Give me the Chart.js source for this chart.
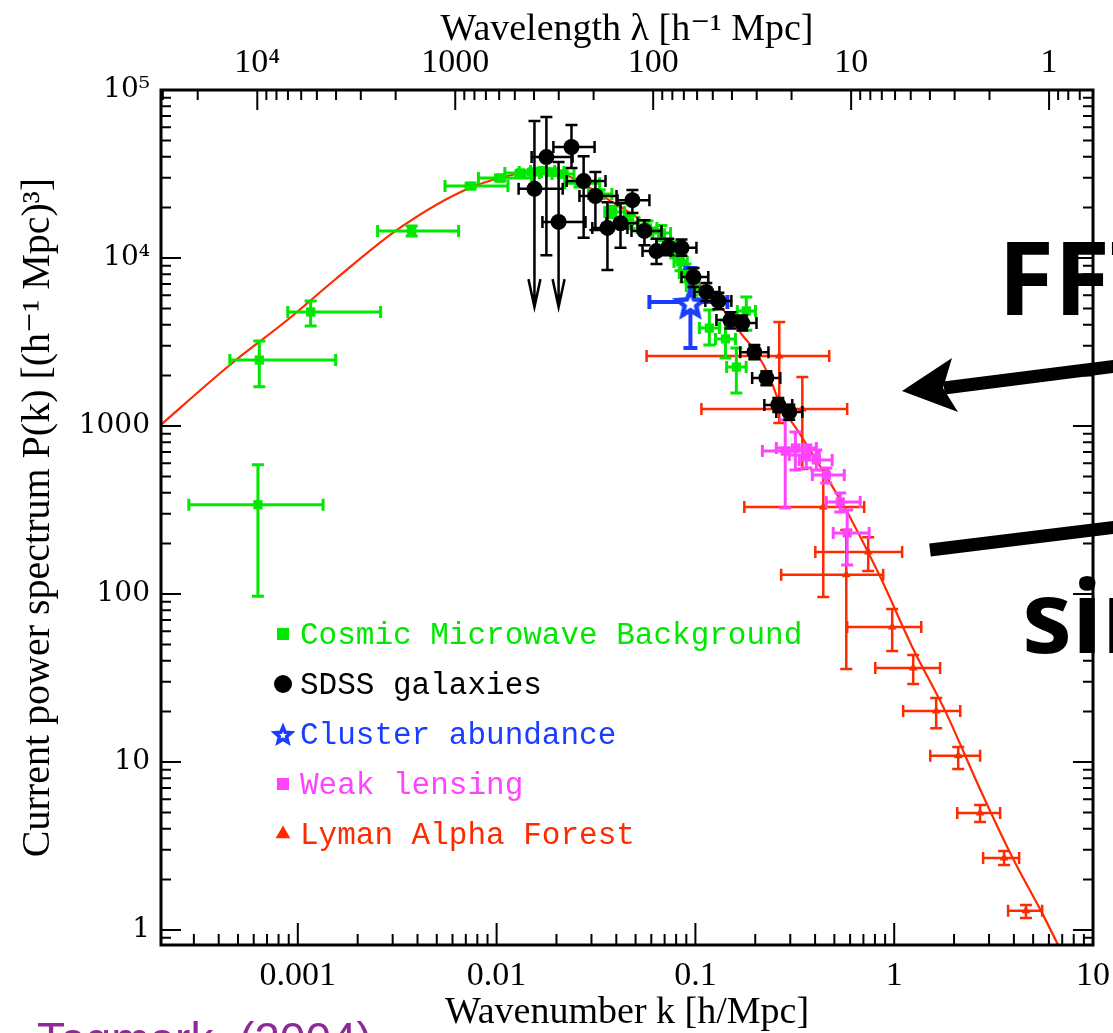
<!DOCTYPE html>
<html>
<head>
<meta charset="utf-8">
<script src="https://cdn.jsdelivr.net/npm/chart.js@4.4.0/dist/chart.umd.min.js"></script>
<style>
  html, body { margin: 0; padding: 0; background: #fff; }
  #wrap { width: 1113px; height: 1033px; }
</style>
</head>
<body>
<div id="wrap"><canvas id="powerChart" width="1113" height="1033"></canvas></div>
<script>
// axis ticks
const kTickValues = [0.001, 0.01, 0.1, 1, 10];
const kTickLabels = ['0.001', '0.01', '0.1', '1', '10'];
const lambdaTickValues = [1e4, 1000, 100, 10, 1];
const lambdaTickLabels = ['10⁴', '1000', '100', '10', '1'];
const pTickValues = [1, 10, 100, 1000, 1e4, 1e5];
const pTickLabels = ['1', '10', '100', '1000', '10⁴', '10⁵'];

// Cosmic Microwave Background
const cmbK   = [6.3e-4, 6.4e-4, 1.16e-3, 3.74e-3, 7.4e-3, 0.0104, 0.0132, 0.0152, 0.0170, 0.0191, 0.0215, 0.0261, 0.0330, 0.0383, 0.0466, 0.0574, 0.0675, 0.0793, 0.0841, 0.0891, 0.0967, 0.1175, 0.1416, 0.1607, 0.1803];
const cmbP   = [340, 2470, 4770, 14500, 26800, 29900, 32100, 32500, 33000, 32500, 31600, 27900, 24000, 18800, 16400, 15100, 14100, 11200, 9460, 8140, 6810, 3830, 3300, 2245, 4840];
const cmbKLo = [2.83e-4, 4.55e-4, 8.9e-4, 2.52e-3, 5.5e-3, 8.1e-3, 0.0110, 0.0130, 0.0148, 0.0168, 0.0190, 0.0220, 0.0290, 0.0350, 0.0420, 0.0510, 0.0610, 0.0730, 0.0780, 0.0830, 0.0900, 0.1047, 0.1262, 0.1436, 0.1625];
const cmbKHi = [1.34e-3, 1.55e-3, 2.61e-3, 6.44e-3, 0.0114, 0.0150, 0.0164, 0.0178, 0.0196, 0.0218, 0.0245, 0.0330, 0.0380, 0.0440, 0.0520, 0.0640, 0.0750, 0.0860, 0.0910, 0.0960, 0.1040, 0.1321, 0.1590, 0.1800, 0.2005];
const cmbPLo = [97, 1710, 3940, 13500, 25800, 28700, 31000, 31300, 31800, 31200, 30200, 26500, 22600, 17400, 15000, 13700, 12700, 10000, 8400, 7200, 6000, 3035, 2540, 1570, 3720];
const cmbPHi = [587, 3210, 5550, 15500, 27900, 31200, 33200, 33700, 34300, 33900, 33000, 29400, 25500, 20300, 17900, 16600, 15600, 12500, 10600, 9200, 7700, 4900, 4270, 2910, 5860];

// SDSS galaxies
const sdssK   = [0.0155, 0.0178, 0.0205, 0.0238, 0.0274, 0.0314, 0.0361, 0.0420, 0.0482, 0.0554, 0.0637, 0.0731, 0.0851, 0.0978, 0.1135, 0.1305, 0.150, 0.1722, 0.1979, 0.2275, 0.2612, 0.2966];
const sdssP   = [25800, 39900, 16400, 45800, 28700, 23400, 15100, 16100, 22100, 14500, 11000, 11600, 11500, 7710, 6280, 5550, 4270, 4100, 2750, 1930, 1334, 1211];
const sdssKLo = [0.0129, 0.0150, 0.0170, 0.0193, 0.0225, 0.0261, 0.0303, 0.0357, 0.0406, 0.0477, 0.0542, 0.0637, 0.0723, 0.0851, 0.0989, 0.1122, 0.1276, 0.150, 0.168, 0.193, 0.2222, 0.2553];
const sdssKHi = [0.0215, 0.0241, 0.0280, 0.0311, 0.0353, 0.0401, 0.0455, 0.0512, 0.0587, 0.0675, 0.0749, 0.0861, 0.1012, 0.1161, 0.1321, 0.1517, 0.1762, 0.2029, 0.233, 0.2673, 0.3071, 0.3450];
const sdssPLo = [5100, 10400, 5100, 34300, 13200, 14700, 8480, 11500, 18500, 11900, 9200, 10400, 10300, 6710, 5550, 4950, 3800, 3700, 2500, 1750, 1210, 1090];
const sdssPHi = [65400, 69000, 37300, 61900, 40400, 32500, 21500, 21200, 25400, 16800, 13000, 13000, 12900, 8710, 7100, 6200, 4750, 4550, 3030, 2120, 1470, 1340];
const sdssUpperLimit = [true, false, true, false, false, false, false, false, false, false, false, false, false, false, false, false, false, false, false, false, false, false];

// Cluster abundance
const clusterK = [0.0944];
const clusterP = [5470];
const clusterKLo = [0.0587];
const clusterKHi = [0.1449];
const clusterPLo = [2910];
const clusterPHi = [8710];

// Weak lensing
const wlK   = [0.2830, 0.3184, 0.3614, 0.4058, 0.4553, 0.5355, 0.580];
const wlP   = [709, 740, 672, 628, 511, 353, 231];
const wlKLo = [0.2173, 0.2553, 0.2966, 0.333, 0.3873, 0.4553, 0.4935];
const wlKHi = [0.3743, 0.4058, 0.4198, 0.4875, 0.5607, 0.6745, 0.748];
const wlPLo = [325, 547, 562, 547, 458, 308, 149];
const wlPHi = [1086, 920, 771, 720, 562, 399, 316];

// Lyman Alpha Forest
const lyaK   = [0.2641, 0.345, 0.4397, 0.740, 0.574, 0.977, 1.246, 1.626, 2.099, 2.704, 3.57, 4.60];
const lyaP   = [2610, 1262, 329, 178, 130, 63.7, 36.3, 20.1, 10.9, 4.97, 2.68, 1.30];
const lyaKLo = [0.0568, 0.1072, 0.1762, 0.401, 0.270, 0.580, 0.803, 1.109, 1.518, 2.075, 2.80, 3.74];
const lyaKHi = [0.471, 0.580, 0.706, 1.096, 0.880, 1.368, 1.702, 2.148, 2.704, 3.41, 4.25, 5.55];
const lyaPLo = [1042, 555, 96, 137, 35.8, 45.8, 29.1, 15.9, 9.08, 4.40, 2.44, 1.18];
const lyaPHi = [4160, 1960, 547, 218, 240, 81.5, 43.4, 24.0, 12.3, 5.55, 2.95, 1.41];

// model curve
const theoryK = [1.9e-4, 4.55e-4, 9.12e-4, 1.53e-3, 3.26e-3, 7.31e-3, 0.01416, 0.01888, 0.0261, 0.0383, 0.0506, 0.0675, 0.0861, 0.1012, 0.1216, 0.143, 0.172, 0.203, 0.236, 0.264, 0.333, 0.435, 0.580, 0.841, 1.232, 1.824, 2.672, 3.92, 5.55, 6.67, 8.0];
const theoryP = [940, 2307, 4395, 7396, 15100, 26100, 32500, 33400, 28300, 21500, 17500, 13700, 10100, 7390, 5620, 4710, 3480, 2720, 1960, 1390, 908, 547, 308, 130, 48.4, 19.6, 7.10, 2.72, 1.26, 0.815, 0.52];

const kMin = 2.05e-4, kMax = 10;
const pMin = 0.814, pMax = 1e5;

const GREEN = '#00e800', BLACK = '#000000', BLUE = '#1a3dff', MAGENTA = '#ff44ff', RED = '#ff2a00';
const serif = '"Liberation Serif", "DejaVu Serif", serif';

const pts = (xs, ys) => xs.map((x, i) => ({x: x, y: ys[i]}));

function starIcon(size, color, lw) {
  const c = document.createElement('canvas');
  c.width = c.height = size;
  const g = c.getContext('2d');
  const cx = size / 2, cy = size / 2 + size * 0.06;
  const R = size / 2 - lw, r = R * 0.45;
  g.beginPath();
  for (let i = 0; i < 10; i++) {
    const a = -Math.PI / 2 + i * Math.PI / 5;
    const rr = i % 2 ? r : R;
    g.lineTo(cx + rr * Math.cos(a), cy + rr * Math.sin(a));
  }
  g.closePath();
  g.fillStyle = '#fff';
  g.fill();
  g.strokeStyle = color;
  g.lineWidth = lw;
  g.stroke();
  return c;
}

const errorBars = {
  id: 'errorBars',
  beforeDatasetDraw(chart, args) {
    const ds = chart.data.datasets[args.index];
    const e = ds.errors;
    if (!e) return;
    const {ctx, chartArea: a} = chart;
    const xs = chart.scales.x, ys = chart.scales.y;
    ctx.save();
    ctx.beginPath();
    ctx.rect(a.left, a.top, a.width, a.height);
    ctx.clip();
    ctx.strokeStyle = e.color;
    ctx.lineWidth = e.width;
    const c = e.cap;
    ds.data.forEach((p, i) => {
      const px = xs.getPixelForValue(p.x), py = ys.getPixelForValue(p.y);
      const x0 = xs.getPixelForValue(e.kLo[i]), x1 = xs.getPixelForValue(e.kHi[i]);
      const y0 = ys.getPixelForValue(e.pLo[i]), y1 = ys.getPixelForValue(e.pHi[i]);
      ctx.beginPath();
      ctx.moveTo(x0, py); ctx.lineTo(x1, py);
      ctx.moveTo(x0, py - c); ctx.lineTo(x0, py + c);
      ctx.moveTo(x1, py - c); ctx.lineTo(x1, py + c);
      ctx.moveTo(px, y1); ctx.lineTo(px, y0);
      ctx.moveTo(px - c, y1); ctx.lineTo(px + c, y1);
      if (e.limit && e.limit[i]) {
        ctx.moveTo(px - 6, y0 - 28); ctx.lineTo(px, y0); ctx.lineTo(px + 6, y0 - 28);
      } else {
        ctx.moveTo(px - c, y0); ctx.lineTo(px + c, y0);
      }
      ctx.stroke();
    });
    ctx.restore();
  }
};

const frameTicks = {
  id: 'frameTicks',
  afterDatasetsDraw(chart) {
    const {ctx, chartArea: a, scales} = chart;
    const each = (scale, fn) => {
      const lo = Math.floor(Math.log10(scale.min)), hi = Math.ceil(Math.log10(scale.max));
      for (let e = lo; e <= hi; e++) {
        for (let m = 1; m < 10; m++) {
          const v = m * Math.pow(10, e);
          if (v < scale.min * 0.9999 || v > scale.max * 1.0001) continue;
          fn(scale.getPixelForValue(v), m === 1);
        }
      }
    };
    ctx.save();
    ctx.strokeStyle = '#000';
    ctx.lineWidth = 2;
    ctx.beginPath();
    each(scales.x, (px, major) => { ctx.moveTo(px, a.bottom); ctx.lineTo(px, a.bottom - (major ? 22 : 11)); });
    each(scales.xTop, (px, major) => { ctx.moveTo(px, a.top); ctx.lineTo(px, a.top + (major ? 20 : 10)); });
    each(scales.y, (py, major) => {
      const L = major ? 20 : 10;
      ctx.moveTo(a.left, py); ctx.lineTo(a.left + L, py);
      ctx.moveTo(a.right, py); ctx.lineTo(a.right - L, py);
    });
    ctx.stroke();
    ctx.lineWidth = 3;
    ctx.strokeRect(a.left, a.top, a.width, a.height);
    ctx.restore();
  }
};

const legendBox = {
  id: 'legendBox',
  afterDraw(chart) {
    const {ctx, chartArea: a} = chart;
    ctx.save();
    ctx.font = '31px "Liberation Mono", "DejaVu Sans Mono", monospace';
    ctx.textBaseline = 'alphabetic';
    chart.data.datasets.filter(d => d.legendIcon).forEach((ds, i) => {
      const base = a.top + 554 + i * 50;
      const ix = a.left + 122, iy = base - 10;
      ctx.fillStyle = ds.pointBackgroundColor;
      ctx.strokeStyle = ds.pointBackgroundColor;
      Chart.helpers.drawPoint(ctx, Object.assign({rotation: 0, borderWidth: 0}, ds.legendIcon), ix, iy);
      ctx.fillStyle = ds.errors.color;
      ctx.fillText(ds.label, a.left + 139, base);
    });
    ctx.restore();
  }
};

const slideNotes = {
  id: 'slideNotes',
  afterDraw(chart) {
    const ctx = chart.ctx;
    ctx.save();
    ctx.fillStyle = '#000';
    ctx.strokeStyle = '#000';
    ctx.textBaseline = 'alphabetic';
    ctx.font = 'bold 102px "Noto Sans", "Open Sans", sans-serif';
    ctx.fillText('FFT', 998, 315);
    ctx.font = 'bold 100px "Noto Sans", "Open Sans", sans-serif';
    ctx.fillText('sin', 1022, 653);
    ctx.lineWidth = 13;
    ctx.beginPath(); ctx.moveTo(1125, 365); ctx.lineTo(944, 388); ctx.stroke();
    ctx.beginPath();
    ctx.moveTo(902, 391); ctx.lineTo(952, 358); ctx.lineTo(943, 388); ctx.lineTo(958, 412);
    ctx.closePath(); ctx.fill();
    ctx.beginPath(); ctx.moveTo(930, 550); ctx.lineTo(1125, 526); ctx.stroke();
    ctx.fillStyle = '#8e2a96';
    ctx.font = '46px "Liberation Sans", Arial, sans-serif';
    ctx.fillText('Tegmark  (2004)', 37, 1055);
    ctx.restore();
  }
};

const labelFor = (values, labels) => v => {
  const i = values.findIndex(t => Math.abs(Math.log10(t) - Math.log10(v)) < 1e-6);
  return i < 0 ? '' : labels[i];
};

// keep label overhang from shrinking the plot box
const fixX = h => s => { s.height = h; s.paddingLeft = 0; s.paddingRight = 0; };

new Chart(document.getElementById('powerChart'), {
  type: 'scatter',
  data: {
    datasets: [
      {
        label: 'Cosmic Microwave Background', data: pts(cmbK, cmbP), order: 2,
        pointStyle: 'rect', pointRadius: 6.5, pointBorderWidth: 0, pointBackgroundColor: GREEN,
        legendIcon: {pointStyle: 'rect', radius: 8.5},
        errors: {kLo: cmbKLo, kHi: cmbKHi, pLo: cmbPLo, pHi: cmbPHi, color: GREEN, width: 3, cap: 6}
      },
      {
        label: 'SDSS galaxies', data: pts(sdssK, sdssP), order: 0,
        pointStyle: 'circle', pointRadius: 8, pointBorderWidth: 0, pointBackgroundColor: BLACK,
        legendIcon: {pointStyle: 'circle', radius: 9},
        errors: {kLo: sdssKLo, kHi: sdssKHi, pLo: sdssPLo, pHi: sdssPHi, limit: sdssUpperLimit, color: BLACK, width: 2.5, cap: 6}
      },
      {
        label: 'Cluster abundance', data: pts(clusterK, clusterP), order: 1,
        pointStyle: starIcon(36, BLUE, 4.5), pointRadius: 14, pointBackgroundColor: BLUE,
        legendIcon: {pointStyle: starIcon(24, BLUE, 3.5), radius: 10},
        errors: {kLo: clusterKLo, kHi: clusterKHi, pLo: clusterPLo, pHi: clusterPHi, color: BLUE, width: 4, cap: 7}
      },
      {
        label: 'Weak lensing', data: pts(wlK, wlP), order: 3,
        pointStyle: 'rect', pointRadius: 6.5, pointBorderWidth: 0, pointBackgroundColor: MAGENTA,
        legendIcon: {pointStyle: 'rect', radius: 8.5},
        errors: {kLo: wlKLo, kHi: wlKHi, pLo: wlPLo, pHi: wlPHi, color: MAGENTA, width: 3, cap: 6}
      },
      {
        label: 'Lyman Alpha Forest', data: pts(lyaK, lyaP), order: 4,
        pointStyle: 'triangle', pointRadius: 5, pointBorderWidth: 0, pointBackgroundColor: RED,
        legendIcon: {pointStyle: 'triangle', radius: 8.5},
        errors: {kLo: lyaKLo, kHi: lyaKHi, pLo: lyaPLo, pHi: lyaPHi, color: RED, width: 2.5, cap: 6}
      },
      {
        label: 'model', data: pts(theoryK, theoryP), order: 10,
        showLine: true, pointRadius: 0, borderColor: RED, borderWidth: 2.2,
        cubicInterpolationMode: 'monotone'
      }
    ]
  },
  options: {
    responsive: false,
    animation: false,
    events: [],
    layout: { padding: { right: 20 } },
    plugins: { legend: { display: false }, tooltip: { enabled: false } },
    scales: {
      x: {
        type: 'logarithmic', position: 'bottom', min: kMin, max: kMax,
        grid: { display: false, drawTicks: false }, border: { display: false },
        afterBuildTicks: s => { s.ticks = kTickValues.map(v => ({value: v})); },
        afterFit: fixX(88),
        ticks: {
          autoSkip: false, maxRotation: 0, padding: 14, color: '#000',
          font: { family: serif, size: 34, lineHeight: 1 },
          callback: labelFor(kTickValues, kTickLabels)
        },
        title: {
          display: true, text: 'Wavenumber k [h/Mpc]', color: '#000',
          font: { family: serif, size: 38, lineHeight: 1 }, padding: { top: 0, bottom: 1 }
        }
      },
      xTop: {
        type: 'logarithmic', position: 'top', reverse: true,
        min: 2 * Math.PI / kMax, max: 2 * Math.PI / kMin,
        grid: { display: false, drawTicks: false }, border: { display: false },
        afterBuildTicks: s => { s.ticks = lambdaTickValues.map(v => ({value: v})); },
        afterFit: fixX(90),
        ticks: {
          autoSkip: false, maxRotation: 0, padding: 10, color: '#000',
          font: { family: serif, size: 34, lineHeight: 1 },
          callback: labelFor(lambdaTickValues, lambdaTickLabels)
        },
        title: {
          display: true, text: 'Wavelength λ [h⁻¹ Mpc]', color: '#000',
          font: { family: serif, size: 38, lineHeight: 1 }, padding: { top: 11, bottom: 0 }
        }
      },
      y: {
        type: 'logarithmic', position: 'left', min: pMin, max: pMax,
        grid: { display: false, drawTicks: false }, border: { display: false },
        afterBuildTicks: s => { s.ticks = pTickValues.map(v => ({value: v})); },
        afterFit: s => { s.width = 161; },
        ticks: {
          autoSkip: false, padding: 11, color: '#000',
          font: { family: '"DejaVu Serif", serif', size: 28, lineHeight: 1 },
          callback: labelFor(pTickValues, pTickLabels)
        },
        title: {
          display: true, text: 'Current power spectrum P(k) [(h⁻¹ Mpc)³]', color: '#000',
          font: { family: serif, size: 40, lineHeight: 1 }, padding: { top: 18, bottom: 0 }
        }
      }
    }
  },
  plugins: [errorBars, frameTicks, legendBox, slideNotes]
});
</script>
</body>
</html>
